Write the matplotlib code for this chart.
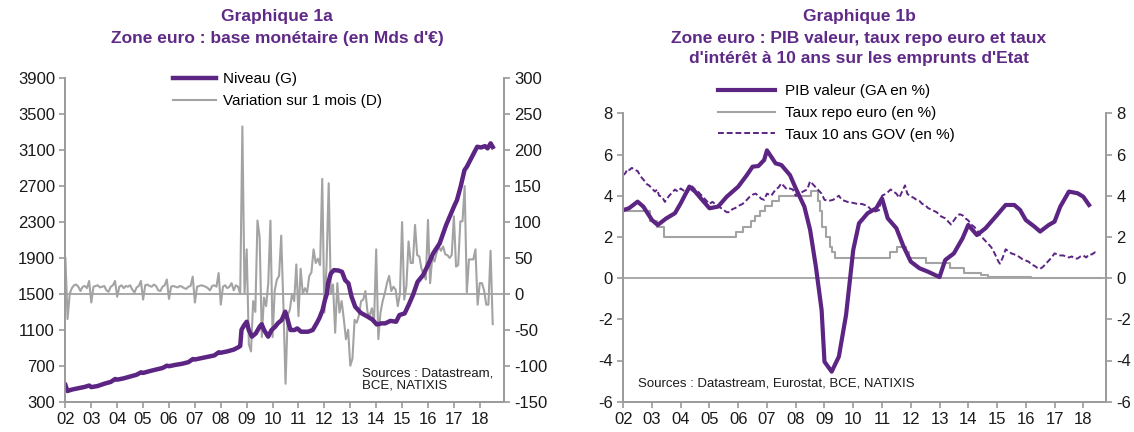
import matplotlib
matplotlib.use("Agg")
import matplotlib.pyplot as plt
from matplotlib.lines import Line2D
import numpy as np

plt.rcParams['font.family'] = ['Liberation Sans', 'DejaVu Sans']
plt.rcParams['axes.unicode_minus'] = False

PURPLE = '#5c2483'
TITLE = '#5f2a87'
GREY = '#a3a3a3'
SPINE = '#9a9a9a'

# ---- Graphique 1a : base monetaire ----
niveau_dates = [2002.0, 2002.08, 2002.25, 2002.5, 2002.75, 2002.92, 2003.0, 2003.25, 2003.5, 2003.75,
                2003.92, 2004.0, 2004.25, 2004.5, 2004.75, 2004.92, 2005.0, 2005.25, 2005.5, 2005.75,
                2005.92, 2006.0, 2006.25, 2006.5, 2006.75, 2006.92, 2007.0, 2007.25, 2007.5, 2007.75,
                2007.92, 2008.0, 2008.25, 2008.5, 2008.67, 2008.75, 2008.8, 2008.9, 2009.0, 2009.08,
                2009.2, 2009.35, 2009.5, 2009.58, 2009.67, 2009.83, 2009.96, 2010.1, 2010.2, 2010.35,
                2010.49, 2010.55, 2010.69, 2010.85, 2010.95, 2011.1, 2011.37, 2011.55, 2011.7, 2011.8,
                2011.93, 2012.02, 2012.1, 2012.14, 2012.25, 2012.37, 2012.55, 2012.68, 2012.8, 2012.93,
                2013.05, 2013.19, 2013.4, 2013.65, 2013.85, 2014.02, 2014.2, 2014.35, 2014.55, 2014.77,
                2014.9, 2015.1, 2015.25, 2015.42, 2015.6, 2015.81, 2016.0, 2016.2, 2016.45, 2016.7,
                2017.0, 2017.12, 2017.26, 2017.41, 2017.5, 2017.7, 2017.9, 2018.05, 2018.2, 2018.3,
                2018.42, 2018.5]
niveau = [486, 419, 435, 450, 465, 480, 462, 475, 500, 520,
          553, 545, 560, 580, 600, 627, 620, 640, 658, 675,
          701, 695, 710, 722, 740, 775, 770, 785, 800, 815,
          850, 845, 860, 880, 905, 920, 1100, 1150, 1190, 1098,
          1024, 1060, 1135, 1162, 1098, 1024, 1098, 1135, 1172, 1209,
          1302, 1246, 1098, 1098, 1116, 1079, 1079, 1098, 1172, 1227,
          1320, 1431, 1505, 1617, 1728, 1765, 1760, 1746, 1654, 1617,
          1468, 1357, 1290, 1250, 1215, 1160, 1172, 1172, 1200, 1190,
          1265, 1283, 1375, 1487, 1635, 1709, 1821, 1951, 2062, 2266,
          2470, 2545, 2693, 2878, 2915, 3027, 3138, 3130, 3145, 3120,
          3176, 3135]

# variation sur 1 mois, mensuel de janvier 2002 a juillet 2018
variation = [50, -35, 0, 8, 12, 13, 10, 4, 10, 11, 8, 18,
             -12, 10, 11, 12, 9, 10, 11, 5, 3, 10, 12, 18,
             -4, 10, 12, 8, 11, 10, 12, 6, 2, 9, 11, 18,
             -8, 12, 13, 11, 10, 13, 11, 5, 4, 10, 12, 20,
             -7, 10, 11, 10, 9, 11, 10, 8, 7, 10, 11, 24,
             -12, 10, 11, 12, 11, 10, 8, 5, 11, 12, 10, 29,
             -15, 10, 12, 8, 10, 15, 5, 12, 10, 0, 233, 0,
             62, -70, -80, -10, -25, 102, 79, -60, -5, -17, 15, 102,
             -60, 5, 20, 25, 81, -15, -125, -30, -22, 0, -10, 41,
             -31, 35, 0, 8, 2, 25, 30, 62, 43, 49, 40, 160,
             -26, 40, 154, 0, 13, -54, 15, -26, -10, -35, -63, -50,
             -100, -90, -36, -40, -30, -10, -8, 4, -26, -30, -20, -40,
             62, -63, -26, -10, 1, 15, 25, 4, 10, 6, -17, 0,
             100, -8, 11, 73, 43, 43, 96, 54, 52, 35, 27, 20,
             103, 15, 52, 45, 57, 66, 60, 66, 55, 54, 50, 54,
             108, 38, 40, 101, 101, 150, 2, 48, 48, 48, 62, -15,
             15, 15, 5, -15, -15, 60, -42]
variation_dates = 2002 + np.arange(len(variation)) / 12

# ---- Graphique 1b : PIB valeur, repo, taux 10 ans ----
pib_dates = [2002.0, 2002.2, 2002.5, 2002.7, 2003.0, 2003.2, 2003.5, 2003.8, 2004.0, 2004.3,
             2004.5, 2004.7, 2005.0, 2005.3, 2005.6, 2006.0, 2006.3, 2006.5, 2006.7, 2006.9,
             2007.0, 2007.3, 2007.5, 2007.8, 2008.0, 2008.3, 2008.5, 2008.7, 2008.9, 2009.0,
             2009.25, 2009.5, 2009.75, 2010.0, 2010.2, 2010.5, 2010.8, 2011.0, 2011.2, 2011.5,
             2011.75, 2012.0, 2012.3, 2012.6, 2013.0, 2013.2, 2013.5, 2013.8, 2014.0, 2014.3,
             2014.6, 2015.0, 2015.3, 2015.6, 2015.8, 2016.0, 2016.3, 2016.5, 2016.8, 2017.0,
             2017.2, 2017.5, 2017.8, 2018.0, 2018.2]
pib = [3.3, 3.39, 3.71, 3.47, 2.82, 2.58, 2.9, 3.15, 3.63, 4.44,
       4.2, 3.87, 3.39, 3.47, 3.95, 4.44, 5.0, 5.41, 5.44, 5.73,
       6.2, 5.57, 5.49, 5.0, 4.36, 3.47, 2.34, 0.56, -1.55, -4.06,
       -4.54, -3.81, -1.79, 1.37, 2.66, 3.15, 3.39, 3.87, 2.9, 2.42,
       1.53, 0.8, 0.48, 0.31, 0.05, 0.88, 1.2, 1.93, 2.58, 2.09,
       2.42, 3.06, 3.55, 3.55, 3.31, 2.82, 2.5, 2.26, 2.58, 2.74,
       3.47, 4.2, 4.12, 3.95, 3.55]

repo_dates = [2002.0, 2002.93, 2003.18, 2003.43, 2005.93, 2006.18, 2006.43, 2006.6, 2006.77, 2006.93,
              2007.18, 2007.43, 2008.52, 2008.77, 2008.85, 2008.93, 2009.05, 2009.18, 2009.27, 2009.37,
              2011.27, 2011.52, 2011.85, 2011.93, 2012.52, 2013.35, 2013.85, 2014.43, 2014.68, 2016.18,
              2018.6]
repo = [3.25, 2.75, 2.5, 2.0, 2.25, 2.5, 2.75, 3.0, 3.25, 3.5,
        3.75, 4.0, 4.25, 3.75, 3.25, 2.5, 2.0, 1.5, 1.25, 1.0,
        1.25, 1.5, 1.25, 1.0, 0.75, 0.5, 0.25, 0.15, 0.05, 0.0,
        0.0]

taux10_dates = [2002.0, 2002.08, 2002.15, 2002.22, 2002.3, 2002.4, 2002.5, 2002.6, 2002.75, 2002.83,
                2002.9, 2003.0, 2003.1, 2003.18, 2003.25, 2003.35, 2003.45, 2003.52, 2003.6, 2003.7,
                2003.8, 2003.9, 2004.0, 2004.1, 2004.2, 2004.3, 2004.4, 2004.5, 2004.6, 2004.7,
                2004.8, 2004.9, 2005.0, 2005.1, 2005.2, 2005.35, 2005.5, 2005.6, 2005.7, 2005.8,
                2005.9, 2006.0, 2006.15, 2006.3, 2006.4, 2006.5, 2006.6, 2006.7, 2006.8, 2006.9,
                2007.0, 2007.15, 2007.3, 2007.4, 2007.5, 2007.6, 2007.7, 2007.8, 2007.9, 2008.0,
                2008.1, 2008.25, 2008.4, 2008.5, 2008.6, 2008.7, 2008.8, 2008.9, 2009.0, 2009.15,
                2009.3, 2009.4, 2009.5, 2009.6, 2009.8, 2010.0, 2010.15, 2010.3, 2010.4, 2010.5,
                2010.6, 2010.7, 2010.8, 2010.9, 2011.0, 2011.15, 2011.3, 2011.4, 2011.5, 2011.6,
                2011.7, 2011.8, 2011.88, 2011.95, 2012.1, 2012.2, 2012.3, 2012.4, 2012.5, 2012.6,
                2012.75, 2012.9, 2013.05, 2013.2, 2013.3, 2013.4, 2013.5, 2013.6, 2013.7, 2013.8,
                2013.9, 2014.0, 2014.1, 2014.2, 2014.3, 2014.4, 2014.5, 2014.6, 2014.7, 2014.8,
                2014.88, 2014.95, 2015.05, 2015.1, 2015.2, 2015.3, 2015.4, 2015.5, 2015.6, 2015.7,
                2015.8, 2015.9, 2016.0, 2016.1, 2016.2, 2016.3, 2016.4, 2016.5, 2016.6, 2016.7,
                2016.8, 2016.9, 2017.0, 2017.1, 2017.2, 2017.3, 2017.4, 2017.5, 2017.6, 2017.7,
                2017.8, 2017.9, 2018.0, 2018.1, 2018.2, 2018.3, 2018.4, 2018.5]
taux10 = [5.0, 5.1, 5.3, 5.25, 5.35, 5.25, 5.2, 4.95, 4.7, 4.55,
          4.5, 4.35, 4.2, 4.3, 4.0, 3.95, 3.7, 3.85, 4.0, 4.15,
          4.3, 4.2, 4.35, 4.25, 4.1, 4.3, 4.45, 4.3, 4.2, 4.05,
          3.9, 3.75, 3.6, 3.7, 3.6, 3.45, 3.3, 3.2, 3.2, 3.35,
          3.4, 3.5, 3.6, 3.8, 3.95, 4.05, 4.1, 4.0, 3.85, 3.8,
          4.1, 4.0, 4.3, 4.4, 4.6, 4.45, 4.3, 4.35, 4.3, 4.0,
          4.05, 4.2, 4.3, 4.7, 4.55, 4.4, 4.25, 4.1, 3.8, 3.75,
          3.8, 3.9, 4.0, 3.8, 3.7, 3.65, 3.6, 3.6, 3.55, 3.5,
          3.35, 3.2, 3.25, 3.3, 4.0, 4.1, 4.3, 4.2, 4.1, 3.9,
          4.2, 4.5, 4.1, 4.0, 3.9, 3.8, 3.75, 3.6, 3.55, 3.4,
          3.3, 3.2, 3.0, 2.9, 2.75, 2.6, 2.8, 3.0, 3.1, 3.05,
          2.9, 2.8, 2.6, 2.5, 2.35, 2.1, 1.95, 1.8, 1.65, 1.5,
          1.3, 1.1, 0.8, 0.7, 1.0, 1.4, 1.3, 1.2, 1.15, 1.1,
          1.0, 0.9, 0.85, 0.8, 0.65, 0.6, 0.5, 0.45, 0.55, 0.7,
          0.85, 1.0, 1.2, 1.15, 1.1, 1.1, 1.05, 1.0, 1.05, 0.95,
          0.95, 1.05, 1.1, 1.0, 1.15, 1.15, 1.25, 1.2]

years = np.arange(2002, 2019)
year_labels = ['%02d' % (y - 2000) for y in years]

W, H = 1134, 432
fig = plt.figure(figsize=(W / 100, H / 100), dpi=100)


def style_axes(ax, ax2):
    for a in (ax, ax2):
        a.spines['top'].set_visible(False)
        for s in ('left', 'right', 'bottom'):
            a.spines[s].set_color(SPINE)
            a.spines[s].set_linewidth(1.2)
        a.tick_params(colors=SPINE, labelcolor='#1a1a1a', labelsize=12, length=4, width=1.2)
    ax.set_xticks(years)
    ax.set_xticklabels(year_labels)


# left panel
ax = fig.add_axes([65.4 / W, 1 - 401.7 / H, 438.2 / W, 323.4 / H])
ax2 = ax.twinx()
ax.set_zorder(ax2.get_zorder() + 1)
ax.patch.set_visible(False)
ax2.axhline(0, color=GREY, lw=1.3)
ax2.plot(variation_dates, variation, color=GREY, lw=1.5)
ax.plot(niveau_dates, niveau, color=PURPLE, lw=3.2, solid_joinstyle='round')
ax.set_xlim(2002, 2018.92)
ax.set_ylim(300, 3900)
ax.set_yticks(np.arange(300, 3901, 400))
ax2.set_ylim(-150, 300)
ax2.set_yticks(np.arange(-150, 301, 50))
style_axes(ax, ax2)

fig.text(277 / W, 1 - 17 / H, 'Graphique 1a', ha='center', va='center',
         fontsize=12.5, fontweight='bold', color=TITLE)
fig.text(277 / W, 1 - 38 / H, "Zone euro : base monétaire (en Mds d'€)", ha='center', va='center',
         fontsize=12.5, fontweight='bold', color=TITLE)
fig.text(361.7 / W, 1 - 379.7 / H, 'Sources : Datastream,\nBCE, NATIXIS', ha='left', va='center',
         fontsize=9.5, linespacing=1.05, color='#1a1a1a')

h1 = [Line2D([], [], color=PURPLE, lw=3.2), Line2D([], [], color=GREY, lw=1.5)]
fig.legend(h1, ['Niveau (G)', 'Variation sur 1 mois (D)'], loc='upper left',
           bbox_to_anchor=(173 / W, 1 - 72 / H), frameon=False, fontsize=11,
           borderpad=0, borderaxespad=0, handlelength=2.8, handletextpad=0.5, labelspacing=0.54)

# right panel
bx = fig.add_axes([623.2 / W, 1 - 401.7 / H, 482.8 / W, 288.4 / H])
bx2 = bx.twinx()
bx.axhline(0, color=GREY, lw=1.3)
bx.plot(repo_dates, repo, color=GREY, lw=1.5, drawstyle='steps-post')
bx.plot(taux10_dates, taux10, color=PURPLE, lw=1.4, linestyle=(0, (3, 1.5)))
bx.plot(pib_dates, pib, color=PURPLE, lw=3.0, solid_joinstyle='round')
bx.set_xlim(2002, 2018.79)
for a in (bx, bx2):
    a.set_ylim(-6, 8)
    a.set_yticks(np.arange(-6, 9, 2))
style_axes(bx, bx2)

for txt, yy in [('Graphique 1b', 17), ('Zone euro : PIB valeur, taux repo euro et taux', 38),
                ("d'intérêt à 10 ans sur les emprunts d'Etat", 59)]:
    fig.text(859 / W, 1 - yy / H, txt, ha='center', va='center',
             fontsize=12.5, fontweight='bold', color=TITLE)
fig.text(637.6 / W, 1 - 384 / H, 'Sources : Datastream, Eurostat, BCE, NATIXIS', ha='left', va='center',
         fontsize=9.5, color='#1a1a1a')

h2 = [Line2D([], [], color=PURPLE, lw=3.0), Line2D([], [], color=GREY, lw=1.5),
      Line2D([], [], color=PURPLE, lw=1.4, linestyle=(0, (3, 1.5)))]
fig.legend(h2, ['PIB valeur (GA en %)', 'Taux repo euro (en %)', 'Taux 10 ans GOV (en %)'],
           loc='upper left', bbox_to_anchor=(717.5 / W, 1 - 84.5 / H), frameon=False, fontsize=11,
           borderpad=0, borderaxespad=0, handlelength=3.75, handletextpad=0.65, labelspacing=0.5)

fig.savefig('out.png', dpi=100)
